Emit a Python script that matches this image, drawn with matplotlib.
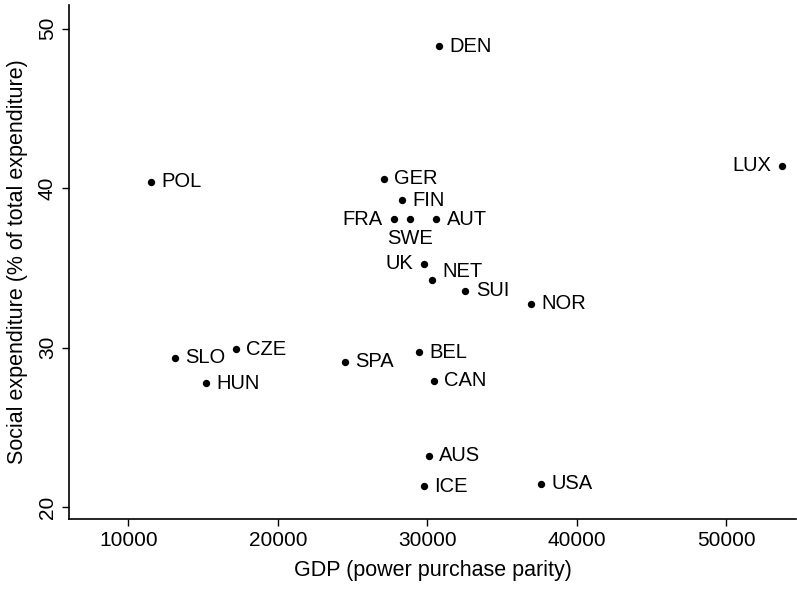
import numpy as np
import matplotlib
matplotlib.use("Agg")
import matplotlib.pyplot as plt

plt.rcParams["font.family"] = ["Liberation Sans", "DejaVu Sans"]

countries = ["DEN", "LUX", "POL", "GER", "FIN", "FRA", "SWE", "AUT", "UK", "NET",
             "SUI", "NOR", "SLO", "CZE", "HUN", "SPA", "BEL", "CAN", "AUS", "ICE", "USA"]
gdp = [30770, 53750, 11520, 27090, 28340, 27780, 28880, 30620, 29810, 30320,
       32550, 36970, 13120, 17200, 15190, 24490, 29450, 30450, 30120, 29770, 37630]
social = [48.9, 41.4, 40.4, 40.6, 39.25, 38.05, 38.05, 38.05, 35.25, 34.25,
          33.55, 32.75, 29.35, 29.9, 27.75, 29.1, 29.7, 27.9, 23.2, 21.3, 21.45]

# label placement (clock position like Stata's mlabvposition)
clock = {"FRA": 9, "SWE": 6, "UK": 9, "LUX": 9, "NET": 2}
offsets = {3: (7.5, 0), 9: (-8, 0), 6: (0, -14), 2: (7.5, 6)}
aligns = {3: ("left", "center"), 9: ("right", "center"),
          6: ("center", "center"), 2: ("left", "center")}

fig = plt.figure(figsize=(7.97, 5.89), dpi=100)
ax = fig.add_axes([0.087, 0.119, 0.912, 0.873])

ax.scatter(gdp, social, s=28, color="black", zorder=3, linewidths=0)
for c, x, y in zip(countries, gdp, social):
    pos = clock.get(c, 3)
    ha, va = aligns[pos]
    ax.annotate(c, (x, y), xytext=offsets[pos], textcoords="offset points",
                ha=ha, va=va, fontsize=14.5, color="black")

ax.set_xlim(6050, 54700)
ax.set_ylim(19.25, 51.5)
ax.set_xticks([10000, 20000, 30000, 40000, 50000])
ax.set_yticks([20, 30, 40, 50])
ax.tick_params(axis="both", direction="out", length=5, width=1, labelsize=15, pad=4)
for lbl in ax.get_yticklabels():
    lbl.set_rotation(90)
    lbl.set_va("center")

for side in ["top", "right"]:
    ax.spines[side].set_visible(False)
for side in ["left", "bottom"]:
    ax.spines[side].set_linewidth(1.2)

ax.set_xlabel("GDP (power purchase parity)", fontsize=15.5, labelpad=7)
ax.set_ylabel("Social expenditure (% of total expenditure)", fontsize=15.5, labelpad=7)

fig.savefig("out.png", dpi=100)
